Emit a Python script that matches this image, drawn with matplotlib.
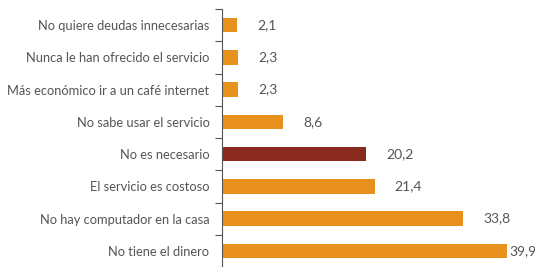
import matplotlib
matplotlib.use("Agg")
import matplotlib.pyplot as plt
from matplotlib.ticker import FixedLocator

categories = [
    "No quiere deudas innecesarias",
    "Nunca le han ofrecido el servicio",
    "Más económico ir a un café internet",
    "No sabe usar el servicio",
    "No es necesario",
    "El servicio es costoso",
    "No hay computador en la casa",
    "No tiene el dinero",
]
values = [2.1, 2.3, 2.3, 8.6, 20.2, 21.4, 33.8, 39.9]
value_labels = ["2,1", "2,3", "2,3", "8,6", "20,2", "21,4", "33,8", "39,9"]

orange = "#E8911F"
darkred = "#8A2A1F"
colors = [darkred if c == "No es necesario" else orange for c in categories]
text_color = "#555555"

plt.rcParams['font.family'] = ['Lato', 'DejaVu Sans']

fig = plt.figure(figsize=(5.35, 2.67), dpi=100)
ax = fig.add_axes([222/535, 0.0, (532-222)/535, 1 - 9/267])

n = len(categories)
ypos = list(range(n))
ax.barh(ypos, values, height=0.45, color=colors, zorder=2)
ax.set_ylim(n - 0.5, -0.5)
ax.set_xlim(0, (532-222)/7.14)

ax.set_yticks(ypos)
ax.set_yticklabels(categories, fontsize=9.3, color=text_color)
ax.tick_params(axis='y', which='major', length=0, pad=9)
ax.yaxis.set_minor_locator(FixedLocator([i - 0.5 for i in range(n + 1)]))
ax.tick_params(axis='y', which='minor', length=5, width=0.8, color="#555555")
ax.set_xticks([])

for s in ["top", "right", "bottom"]:
    ax.spines[s].set_visible(False)
ax.spines["left"].set_color("#555555")
ax.spines["left"].set_linewidth(0.8)

for i, (v, lab) in enumerate(zip(values, value_labels)):
    off = 2.8 if i < n - 1 else 0.3
    ax.text(v + off, i, lab, va='center', ha='left', fontsize=10, color=text_color)

fig.savefig("out.png", dpi=100)
